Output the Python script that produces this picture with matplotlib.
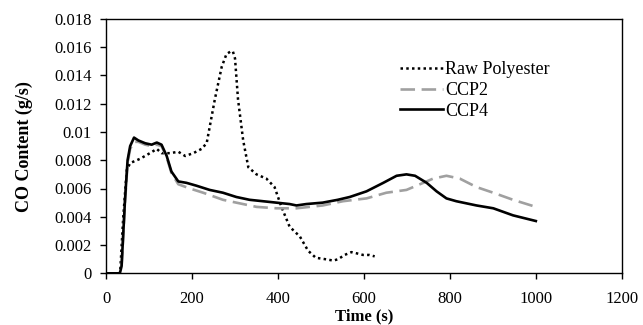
import numpy as np
import matplotlib.pyplot as plt

plt.rcParams['font.family'] = ['Liberation Serif', 'DejaVu Serif']

# Raw Polyester (dotted)
raw_t = [0, 30, 33, 40, 48, 56, 79, 102, 118, 129, 149, 168, 184, 203, 222, 234, 253,
         269, 280, 290, 295, 300, 307, 319, 331, 350, 373, 392, 408, 427, 451, 470, 488,
         510, 529, 540, 555, 571, 585, 598, 612, 625]
raw_co = [0, 0, 0.0002, 0.0040, 0.0073, 0.0078, 0.0081, 0.0085, 0.0088, 0.0085, 0.0085,
          0.0086, 0.0083, 0.0085, 0.0088, 0.0092, 0.0123, 0.0146, 0.0155, 0.0157, 0.0157,
          0.0152, 0.0123, 0.0094, 0.0075, 0.0070, 0.0067, 0.0061, 0.0047, 0.0033, 0.0026,
          0.0016, 0.0011, 0.0010, 0.0009, 0.0010, 0.0013, 0.0015, 0.0014, 0.0013, 0.0013,
          0.0012]

# CCP2 (grey dashed)
ccp2_t = [0, 31, 36, 44, 50, 56, 65, 75, 91, 106, 118, 129, 141, 152, 168, 195, 226,
          272, 303, 350, 396, 443, 504, 551, 606, 652, 699, 738, 761, 792, 823, 862,
          901, 947, 1000]
ccp2_co = [0, 0, 0.0004, 0.0050, 0.0078, 0.0088, 0.0093, 0.0093, 0.0091, 0.0090, 0.0091,
           0.0090, 0.0082, 0.0071, 0.0063, 0.0060, 0.0057, 0.0052, 0.0050, 0.0047,
           0.0046, 0.0046, 0.0048, 0.0051, 0.0053, 0.0057, 0.0059, 0.0064, 0.0067,
           0.0069, 0.0067, 0.0061, 0.0057, 0.0052, 0.0047]

# CCP4 (black solid)
ccp4_t = [0, 32, 36, 44, 50, 56, 65, 75, 91, 106, 118, 129, 141, 152, 168, 187, 210,
          241, 272, 303, 334, 365, 396, 427, 443, 466, 504, 539, 567, 606, 645, 676,
          699, 719, 746, 769, 792, 815, 862, 901, 947, 1000]
ccp4_co = [0, 0, 0.0005, 0.0052, 0.0080, 0.0090, 0.0096, 0.0094, 0.0092, 0.0091,
           0.00925, 0.0091, 0.0083, 0.0072, 0.0065, 0.0064, 0.0062, 0.0059, 0.0057,
           0.0054, 0.0052, 0.0051, 0.0050, 0.0049, 0.0048, 0.0049, 0.0050, 0.0052,
           0.0054, 0.0058, 0.0064, 0.0069, 0.0070, 0.0069, 0.0064, 0.0058, 0.0053,
           0.0051, 0.0048, 0.0046, 0.0041, 0.0037]

fig = plt.figure(figsize=(6.43, 3.25), dpi=100)
ax = fig.add_axes([0.165, 0.159, 0.802, 0.783])

ax.plot(raw_t, raw_co, color='black', linestyle=(0, (1, 1.3)), linewidth=1.8,
        label='Raw Polyester')
ax.plot(ccp2_t, ccp2_co, color='#a0a0a0', linestyle=(0, (5.5, 2.5)), linewidth=1.9,
        label='CCP2')
ax.plot(ccp4_t, ccp4_co, color='black', linewidth=1.9, label='CCP4')

ax.set_xlim(0, 1200)
ax.set_ylim(0, 0.018)
ax.set_xticks(np.arange(0, 1201, 200))
ax.set_yticks(np.arange(0, 0.0181, 0.002))
ax.set_yticklabels(['0', '0.002', '0.004', '0.006', '0.008', '0.01', '0.012',
                    '0.014', '0.016', '0.018'])
ax.tick_params(direction='out', length=4.5, width=1, labelsize=12)
ax.tick_params(axis='x', pad=8)
ax.tick_params(axis='y', pad=6)
for s in ax.spines.values():
    s.set_linewidth(1)

ax.set_xlabel('Time (s)', fontsize=12, fontweight='bold', labelpad=1)
ax.set_ylabel('CO Content (g/s)', fontsize=13, fontweight='bold', labelpad=15)

ax.legend(loc='upper left', bbox_to_anchor=(0.556, 0.861), frameon=False, fontsize=13,
          handlelength=2.4, handletextpad=0.1, labelspacing=0.2, borderaxespad=0)

plt.savefig('out.png', dpi=100)
